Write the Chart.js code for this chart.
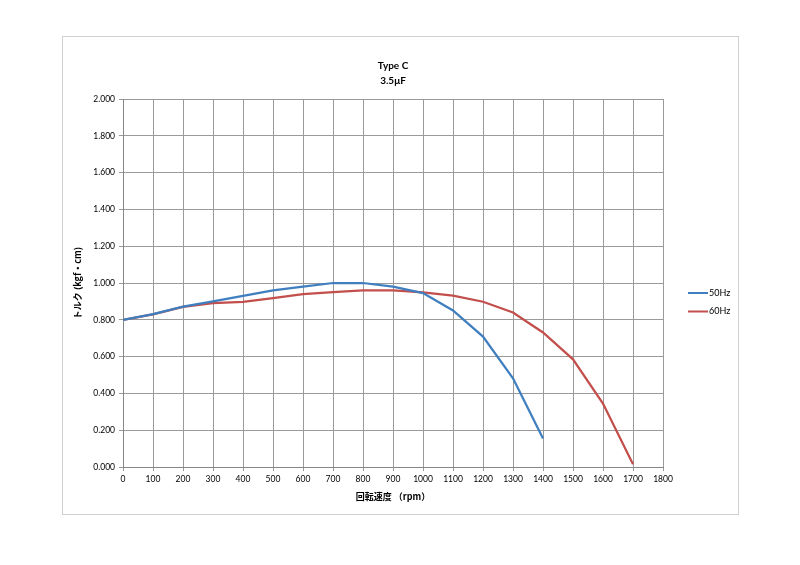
<!DOCTYPE html>
<html>
<head>
<meta charset="utf-8">
<script src="https://cdn.jsdelivr.net/npm/chart.js@4"></script>
<style>
    html, body { margin: 0; padding: 0; background: #fff; }
    #wrap { width: 800px; height: 565px; }
</style>
</head>
<body>
<div id="wrap"><canvas id="torqueChart" width="800" height="565"></canvas></div>
<script>
// Torque curve data
const titleLines = ['Type C', '3.5μF'];
const speed50 = [0, 100, 200, 300, 400, 500, 600, 700, 800, 900, 1000, 1100, 1200, 1300, 1400];
const torque50 = [0.800, 0.831, 0.872, 0.900, 0.930, 0.960, 0.980, 1.000, 1.000, 0.980, 0.945, 0.851, 0.709, 0.482, 0.155];
const speed60 = [0, 100, 200, 300, 400, 500, 600, 700, 800, 900, 1000, 1100, 1200, 1300, 1400, 1500, 1600, 1700];
const torque60 = [0.800, 0.830, 0.870, 0.890, 0.898, 0.918, 0.940, 0.950, 0.960, 0.960, 0.949, 0.931, 0.898, 0.840, 0.731, 0.585, 0.345, 0.015];
const seriesLabels = ['50Hz', '60Hz'];
const seriesColors = ['#3f7fbf', '#c24f4c'];

const baseFont = "Lato, 'Noto Sans CJK JP', sans-serif";
const jpFont = "'Noto Sans CJK JP', Lato, sans-serif";

function toPoints(xs, ys) {
    return xs.map((x, i) => ({ x: x, y: ys[i] }));
}

// Frame, title and legend drawn around the plot
const decorPlugin = {
    id: 'decor',
    beforeDraw(chart) {
        const ctx = chart.ctx;
        ctx.save();
        ctx.fillStyle = '#fff';
        ctx.fillRect(0, 0, chart.width, chart.height);
        ctx.strokeStyle = '#d0d0d0';
        ctx.lineWidth = 1;
        ctx.strokeRect(62.5, 36.5, 676, 478);
        ctx.restore();
    },
    afterDraw(chart) {
        const ctx = chart.ctx;
        const area = chart.chartArea;
        ctx.save();
        ctx.fillStyle = '#000';
        ctx.textAlign = 'center';
        ctx.textBaseline = 'middle';
        ctx.font = 'bold 10px ' + baseFont;
        const cx = (area.left + area.right) / 2;
        ctx.fillText(titleLines[0], cx, 66);
        ctx.fillText(titleLines[1], cx, 81);

        // legend
        ctx.textAlign = 'left';
        ctx.font = '9px ' + baseFont;
        chart.data.datasets.forEach((ds, i) => {
            const y = 293 + i * 18.5;
            ctx.strokeStyle = ds.borderColor;
            ctx.lineWidth = 2;
            ctx.beginPath();
            ctx.moveTo(688, y);
            ctx.lineTo(708, y);
            ctx.stroke();
            ctx.fillStyle = '#000';
            ctx.fillText(ds.label, 709, y);
        });
        ctx.restore();
    }
};

const chart = new Chart(document.getElementById('torqueChart'), {
    type: 'line',
    data: {
        datasets: [
            {
                label: seriesLabels[0],
                data: toPoints(speed50, torque50),
                borderColor: seriesColors[0],
                backgroundColor: seriesColors[0],
                borderWidth: 2.25,
                pointRadius: 0,
                tension: 0
            },
            {
                label: seriesLabels[1],
                data: toPoints(speed60, torque60),
                borderColor: seriesColors[1],
                backgroundColor: seriesColors[1],
                borderWidth: 2.25,
                pointRadius: 0,
                tension: 0
            }
        ]
    },
    options: {
        responsive: false,
        animation: false,
        devicePixelRatio: 1,
        layout: {
            padding: { left: 62, top: 99, right: 137, bottom: 63 }
        },
        plugins: {
            legend: { display: false },
            title: { display: false },
            tooltip: { enabled: false }
        },
        scales: {
            x: {
                type: 'linear',
                min: 0,
                max: 1800,
                afterFit: function(scale) { scale.height = 35; },
                ticks: {
                    stepSize: 100,
                    padding: 3,
                    color: '#000',
                    font: { family: baseFont, size: 8.5 },
                    maxRotation: 0,
                    callback: function(value) { return String(value); }
                },
                grid: {
                    color: '#9a9a9a',
                    tickLength: 4,
                    lineWidth: 1
                },
                border: { color: '#868686' },
                title: {
                    display: true,
                    text: '回転速度 （rpm）',
                    color: '#000',
                    font: { family: jpFont, size: 9, weight: 'bold' },
                    padding: { top: 2, bottom: 0 }
                }
            },
            y: {
                min: 0,
                max: 2,
                afterFit: function(scale) { scale.width = 61; },
                ticks: {
                    stepSize: 0.2,
                    padding: 4,
                    color: '#000',
                    font: { family: baseFont, size: 8.5 },
                    callback: function(value) { return value.toFixed(3); }
                },
                grid: {
                    color: '#9a9a9a',
                    tickLength: 4,
                    lineWidth: 1
                },
                border: { color: '#868686' },
                title: {
                    display: true,
                    text: 'トルク (kgf・cm)',
                    color: '#000',
                    font: { family: jpFont, size: 9, weight: 'bold' },
                    padding: { top: 10, bottom: 0 }
                }
            }
        }
    },
    plugins: [decorPlugin]
});
</script>
</body>
</html>
